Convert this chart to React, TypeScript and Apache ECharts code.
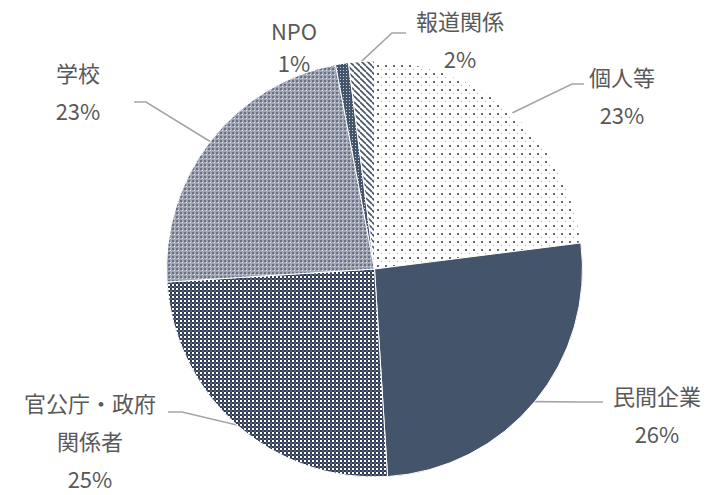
import React, { useEffect, useRef } from "react";
import * as echarts from "echarts";

const categories = ["個人等", "民間企業", "官公庁・政府関係者", "学校", "NPO", "報道関係"];
const labelNames = ["個人等", "民間企業", "官公庁・政府\n関係者", "学校", "NPO", "報道関係"];
const values = [23, 26, 25, 23, 1, 2];

function tile(w: number, h: number, draw: (g: CanvasRenderingContext2D) => void) {
  const c = document.createElement("canvas");
  c.width = w;
  c.height = h;
  const g = c.getContext("2d") as CanvasRenderingContext2D;
  draw(g);
  return c;
}

function makeFills(): any[] {
  const dots = tile(8, 8, (g) => {
    g.fillStyle = "#ffffff";
    g.fillRect(0, 0, 8, 8);
    g.fillStyle = "#666666";
    g.fillRect(1, 1, 2, 2);
    g.fillStyle = "#a8a8a8";
    g.fillRect(5, 5, 1, 1);
  });
  const checker = tile(4, 4, (g) => {
    g.fillStyle = "#303b52";
    g.fillRect(0, 0, 4, 4);
    g.fillStyle = "#ffffff";
    g.fillRect(0, 0, 2, 2);
    g.fillStyle = "#56607a";
    g.fillRect(2, 2, 2, 2);
  });
  const gray = tile(4, 4, (g) => {
    g.fillStyle = "#a0a6b3";
    g.fillRect(0, 0, 4, 4);
    g.fillStyle = "#68708a";
    g.fillRect(0, 0, 2, 2);
    g.fillStyle = "#e6e8ee";
    g.fillRect(2, 2, 1, 1);
  });
  const npo = tile(3, 3, (g) => {
    g.fillStyle = "#44546a";
    g.fillRect(0, 0, 3, 3);
    g.fillStyle = "#c9ced8";
    g.fillRect(1, 1, 1, 1);
  });
  const hatch = tile(6, 6, (g) => {
    g.fillStyle = "#ffffff";
    g.fillRect(0, 0, 6, 6);
    g.strokeStyle = "#44546a";
    g.lineWidth = 1.6;
    for (let i = -6; i <= 6; i += 6) {
      g.beginPath();
      g.moveTo(i, 0);
      g.lineTo(i + 6, 6);
      g.stroke();
    }
  });
  return [
    { image: dots, repeat: "repeat" },
    "#44546a",
    { image: checker, repeat: "repeat" },
    { image: gray, repeat: "repeat" },
    { image: npo, repeat: "repeat" },
    { image: hatch, repeat: "repeat" },
  ];
}

// label placement (layout only)
const labelLayouts: any[] = [
  { x: 622, y: 95, elbow: [572, 84], end: [584, 84] },
  { x: 657, y: 414, elbow: [582, 402], end: [603, 402] },
  { x: 90, y: 440, elbow: [182, 412], end: [168, 412] },
  { x: 78, y: 91, elbow: [146, 102], end: [134, 102] },
  { x: 294, y: 46, lineHeight: 32 },
  { x: 460, y: 39, elbow: [392, 33], end: [406, 33] },
];

export default function App() {
  const ref = useRef<HTMLDivElement>(null);
  useEffect(() => {
    if (!ref.current) return;
    const chart = echarts.init(ref.current, undefined, { renderer: "svg" });
    const fills = makeFills();
    chart.setOption({
      animation: false,
      backgroundColor: "#ffffff",
      series: [
        {
          type: "pie",
          center: [374.5, 269],
          radius: 208,
          startAngle: 90,
          clockwise: true,
          avoidLabelOverlap: false,
          itemStyle: { borderColor: "#ffffff", borderWidth: 1 },
          label: {
            show: true,
            position: "outside",
            color: "#595959",
            fontSize: 22,
            lineHeight: 38,
            fontFamily: "'Noto Sans CJK JP', 'Noto Sans', sans-serif",
            align: "center",
            formatter: (p: any) => labelNames[p.dataIndex] + "\n" + p.value + "%",
          },
          labelLine: {
            show: true,
            lineStyle: { color: "#a5a5a5", width: 1.6 },
          },
          labelLayout: (params: any) => {
            const l = labelLayouts[params.dataIndex];
            const res: any = { x: l.x, y: l.y, align: "center", verticalAlign: "middle" };
            const pts = params.labelLinePoints;
            if (l.elbow && pts && pts[0]) {
              res.labelLinePoints = [pts[0], l.elbow, l.end];
            }
            return res;
          },
          data: categories.map((name, i) => ({
            name,
            value: values[i],
            itemStyle: { color: fills[i] },
            labelLine: { show: i !== 4 },
            label: labelLayouts[i].lineHeight ? { lineHeight: labelLayouts[i].lineHeight } : undefined,
          })),
        },
      ],
    });
    return () => chart.dispose();
  }, []);
  return (
    <div
      ref={ref}
      style={{ position: "fixed", left: 0, top: 0, width: 710, height: 495 }}
    />
  );
}
